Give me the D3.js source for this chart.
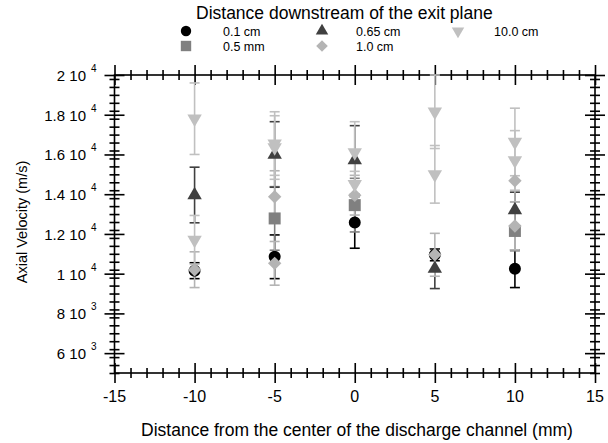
<!DOCTYPE html>
<html>
<head>
<meta charset="utf-8">
<script src="https://cdn.jsdelivr.net/npm/d3@7"></script>
<style>
  html, body { margin: 0; padding: 0; background: #fff; }
  svg { display: block; font-family: "Liberation Sans", Arial, sans-serif; }
</style>
</head>
<body>
<svg id="chart" width="608" height="443"></svg>
<script>
// Axial velocity vs. radial position, one series per downstream distance.
// Each entry: [position (mm), velocity (m/s), error (m/s)]
const seriesNames = ["0.1 cm", "0.5 mm", "0.65 cm", "1.0 cm", "10.0 cm"];
const pts01cm  = [[-10, 10150, 400], [-5, 10850, 1100], [0, 12580, 1300], [5, 10950, 300], [10, 10250, 950]];
const pts05mm  = [[-5, 12780, 1600], [0, 13450, 1350], [10, 12150, 1000]];
const pts065cm = [[-10, 13960, 1400], [-5, 16000, 1650], [0, 15720, 1730], [5, 10250, 1000], [10, 13200, 900]];
const pts10cm  = [[-10, 10200, 900], [-5, 13870, 1310], [-5, 10520, 1100], [0, 13950, 1000], [5, 10950, 1080], [10, 14680, 1060], [10, 12400, 1200]];
const pts100cm = [[-10, 17800, 1800], [-10, 11700, 1230], [-5, 16550, 1600], [-5, 16350, 1600], [0, 16100, 1550], [0, 14500, 650], [5, 18150, 1850], [5, 15000, 1450], [10, 16630, 1700], [10, 15700, 1500]];

const xTicks = [-15, -10, -5, 0, 5, 10, 15];
const yTicks = [6000, 8000, 10000, 12000, 14000, 16000, 18000, 20000];
const yTickMantissa = ["6", "8", "1", "1.2", "1.4", "1.6", "1.8", "2"];
const yTickExponent = ["3", "3", "4", "4", "4", "4", "4", "4"];

const svg = d3.select("#chart");
const x = d3.scaleLinear().domain([-15, 15]).range([114.5, 595]);
const y = d3.scaleLinear().domain([5000, 20000]).range([373, 75]);

const styles = [
  { data: pts01cm,  color: "#000000", shape: "circle" },
  { data: pts05mm,  color: "#808080", shape: "square" },
  { data: pts065cm, color: "#404040", shape: "up" },
  { data: pts10cm,  color: "#b4b4b4", shape: "diamond" },
  { data: pts100cm, color: "#c0c0c0", shape: "down" }
];

function symbolPath(shape, scale) {
  const k = scale || 1;
  switch (shape) {
    case "circle":  return d3.symbol(d3.symbolCircle, 113 * k)();
    case "square":  return d3.symbol(d3.symbolSquare, 144 * k)();
    case "up":      return d3.symbol(d3.symbolTriangle, 90 * k)();
    case "down":    return d3.symbol(d3.symbolTriangle, 90 * k)();
    case "diamond": return d3.symbol(d3.symbolSquare, 90 * k)();
  }
}
function symbolRotate(shape) {
  if (shape === "down") return 180;
  if (shape === "diamond") return 45;
  return 0;
}

// Frame with crossing ticks on all four sides
const minorX = d3.range(-15, 15.01, 1).filter(v => v % 5 !== 0);
const minorY = d3.range(5000, 20001, 400).filter(v => !yTicks.includes(v));

const axes = svg.append("g").attr("class", "axes");
function crossTicks(gen, values, size, orient) {
  const g = axes.append("g").call(gen.tickValues(values).tickSize(size).tickFormat("").tickSizeOuter(0));
  g.select(".domain").remove();
  const lines = g.selectAll(".tick line").attr("stroke", "#000").attr("stroke-width", 1.6);
  if (orient === "h") lines.attr("y1", function () { return -this.getAttribute("y2"); });
  else lines.attr("x1", function () { return -this.getAttribute("x2"); });
  return g;
}
crossTicks(d3.axisBottom(x), xTicks, 10, "h").attr("transform", "translate(0,373)");
crossTicks(d3.axisBottom(x), minorX, 5, "h").attr("transform", "translate(0,373)");
crossTicks(d3.axisTop(x), xTicks, 10, "h").attr("transform", "translate(0,75)");
crossTicks(d3.axisTop(x), minorX, 5, "h").attr("transform", "translate(0,75)");
crossTicks(d3.axisLeft(y), yTicks, 10, "v").attr("transform", "translate(114.5,0)");
crossTicks(d3.axisLeft(y), minorY, 5, "v").attr("transform", "translate(114.5,0)");
crossTicks(d3.axisRight(y), yTicks, 10, "v").attr("transform", "translate(595,0)");
crossTicks(d3.axisRight(y), minorY, 5, "v").attr("transform", "translate(595,0)");
axes.append("rect")
  .attr("x", x(-15)).attr("y", y(20000))
  .attr("width", x(15) - x(-15)).attr("height", y(5000) - y(20000))
  .attr("fill", "none").attr("stroke", "#000").attr("stroke-width", 1.6);

// Tick labels
axes.append("g").selectAll("text").data(xTicks).join("text")
  .attr("x", d => x(d)).attr("y", 402)
  .attr("text-anchor", "middle").attr("font-size", 16)
  .text(d => String(d));

const yl = axes.append("g").selectAll("g").data(yTicks).join("g");
yl.append("text")
  .attr("x", 86).attr("y", d => y(d) + 6)
  .attr("text-anchor", "end").attr("font-size", 15)
  .text((d, i) => yTickMantissa[i] + " 10");
yl.append("text")
  .attr("x", 91).attr("y", d => y(d) - 3)
  .attr("font-size", 10)
  .text((d, i) => yTickExponent[i]);

// Axis titles
svg.append("text")
  .attr("x", 357).attr("y", 436)
  .attr("text-anchor", "middle").attr("font-size", 17.5)
  .text("Distance from the center of the discharge channel (mm)");
svg.append("text")
  .attr("transform", "translate(27,222) rotate(-90)")
  .attr("text-anchor", "middle").attr("font-size", 14.5)
  .text("Axial Velocity (m/s)");

// Error bars first, markers on top
const plot = svg.append("g");
const capHalf = 5;
styles.forEach(s => {
  const g = plot.append("g").attr("stroke", s.color).attr("stroke-width", 1.6).attr("fill", "none");
  g.selectAll("line.bar").data(s.data).join("line").attr("class", "bar")
    .attr("x1", d => x(d[0])).attr("x2", d => x(d[0]))
    .attr("y1", d => y(d[1] - d[2])).attr("y2", d => y(d[1] + d[2]));
  g.selectAll("line.capT").data(s.data).join("line").attr("class", "capT")
    .attr("x1", d => x(d[0]) - capHalf).attr("x2", d => x(d[0]) + capHalf)
    .attr("y1", d => y(d[1] + d[2])).attr("y2", d => y(d[1] + d[2]));
  g.selectAll("line.capB").data(s.data).join("line").attr("class", "capB")
    .attr("x1", d => x(d[0]) - capHalf).attr("x2", d => x(d[0]) + capHalf)
    .attr("y1", d => y(d[1] - d[2])).attr("y2", d => y(d[1] - d[2]));
});
styles.forEach(s => {
  plot.append("g").selectAll("path").data(s.data).join("path")
    .attr("d", symbolPath(s.shape))
    .attr("fill", s.color)
    .attr("transform", d => `translate(${x(d[0])},${y(d[1])}) rotate(${symbolRotate(s.shape)})`);
});

// Legend
const legend = svg.append("g");
legend.append("text").attr("x", 196).attr("y", 19).attr("font-size", 17.5)
  .text("Distance downstream of the exit plane");
const legendPos = [[186, 31], [186, 46], [322, 31], [322, 46], [458, 31]];
const legendTextX = [223, 223, 356, 356, 494];
styles.forEach((s, i) => {
  const [lx, ly] = legendPos[i];
  legend.append("path")
    .attr("d", symbolPath(s.shape, 0.75))
    .attr("fill", s.color)
    .attr("transform", `translate(${lx},${ly}) rotate(${symbolRotate(s.shape)})`);
  legend.append("text").attr("x", legendTextX[i]).attr("y", ly + 4.5)
    .attr("font-size", 12.5).text(seriesNames[i]);
});
</script>
</body>
</html>
